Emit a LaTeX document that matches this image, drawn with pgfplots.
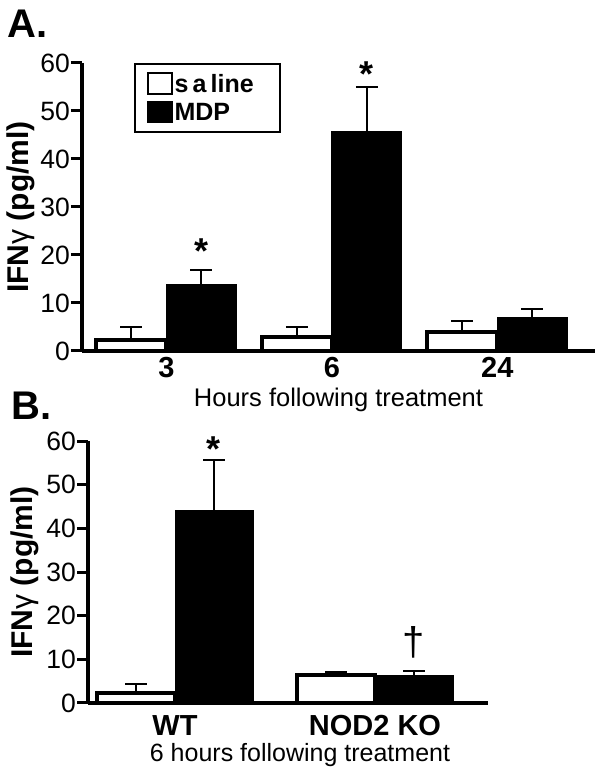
\documentclass[border=0pt]{standalone}
\usepackage{fontspec}
\setmainfont{Liberation Sans}
\usepackage{pgfplots}
\pgfplotsset{compat=1.18}

\pgfplotsset{
  ifnbars/.style={
    scale only axis,
    ybar=0pt,
    axis lines*=left,
    axis line style={line width=4.5pt},
    ymin=0, ymax=60, ytick={0,10,...,60},
    tick align=outside,
    major tick length=11pt,
    ytick style={line width=3pt, black},
    xtick style={draw=none},
    enlargelimits=false,
    clip=false,
    yticklabel style={font=\fontsize{26.5}{28}\selectfont, inner xsep=1pt},
    /pgf/number format/assume math mode=true,
    xticklabel style={font=\bfseries\fontsize{29}{30}\selectfont, anchor=north, inner sep=0pt},
    ylabel={IFN{\mdseries γ} (pg/ml)},
    ylabel style={font=\bfseries\fontsize{30}{32}\selectfont, anchor=center},
    xlabel style={anchor=base},
    error bars/y dir=plus,
    error bars/y explicit,
    error bars/error mark=-,
    error bars/error mark options={rotate=90, mark size=11pt, line width=2pt, black},
    error bars/error bar style={line width=2pt, black},
  },
  saline/.style={draw=black, fill=white, line width=4pt},
  mdp/.style={draw=black, fill=black, line width=1pt},
}
\tikzset{sigstar/.style={font=\bfseries\fontsize{36}{36}\selectfont}}

\begin{document}
\begin{tikzpicture}
\useasboundingbox (0,0) rectangle (604pt,777pt);

\node[anchor=base west, font=\bfseries\fontsize{40}{40}\selectfont, inner sep=0pt] at (7pt,739pt) {A.};
\node[anchor=base west, font=\bfseries\fontsize{40}{40}\selectfont, inner sep=0pt] at (11pt,357pt) {B.};

% panel A
\begin{axis}[ifnbars,
  at={(82pt,426pt)}, anchor=south west,
  width=513pt, height=288pt,
  xmin=-0.51, xmax=2.59,
  bar width=70pt,
  xtick={0,1,2}, xticklabels={3,6,24},
  xticklabel style={yshift=5pt},
  xlabel={Hours following treatment},
  xlabel style={at={(axis description cs:0.5,-0.194)}, font=\fontsize{25.5}{27}\selectfont},
  ylabel style={at={(axis description cs:-0.12,0.5)}},
  legend style={at={(axis description cs:0.101,1)}, anchor=north west,
    draw=black, line width=2.5pt, font=\bfseries\fontsize{25}{26}\selectfont,
    inner xsep=12pt, inner ysep=8pt, row sep=5pt},
  legend cell align=left,
  legend image code/.code={\draw[#1, line width=1.5pt] (0pt,-10pt) rectangle (24pt,11pt);},
]
\addplot[saline] coordinates {(0,2.2) +- (0,2.8) (1,2.9) +- (0,2.1) (2,4.0) +- (0,2.25)};
\addplot[mdp] coordinates {(0,13.75) +- (0,3.15) (1,45.8) +- (0,9.2) (2,7.0) +- (0,1.75)};
\legend{s\,a\,line\kern12pt\null, MDP}
\node[sigstar] at (axis cs:0.21,20.9) {*};
\node[sigstar] at (axis cs:1.21,57.7) {*};
\end{axis}

% panel B
\begin{axis}[ifnbars,
  at={(88pt,74pt)}, anchor=south west,
  width=400pt, height=262pt,
  xmin=-0.435, xmax=1.565,
  bar width=78pt,
  xtick={0,1}, xticklabels={WT,NOD2 KO},
  xticklabel style={yshift=-1pt},
  xlabel={6 hours following treatment},
  xlabel style={at={(axis description cs:0.53,-0.225)}, font=\fontsize{25}{27}\selectfont},
  ylabel style={at={(axis description cs:-0.158,0.5)}},
]
\addplot[saline] coordinates {(0,2.3) +- (0,2.0) (1,6.3) +- (0,0.9)};
\addplot[mdp] coordinates {(0,44) +- (0,11.6) (1,6.3) +- (0,1.0)};
\node[sigstar] at (axis cs:0.195,58.2) {*};
\node[font=\fontsize{40}{40}\selectfont] at (axis cs:1.195,14) {†};
\end{axis}
\end{tikzpicture}
\end{document}
